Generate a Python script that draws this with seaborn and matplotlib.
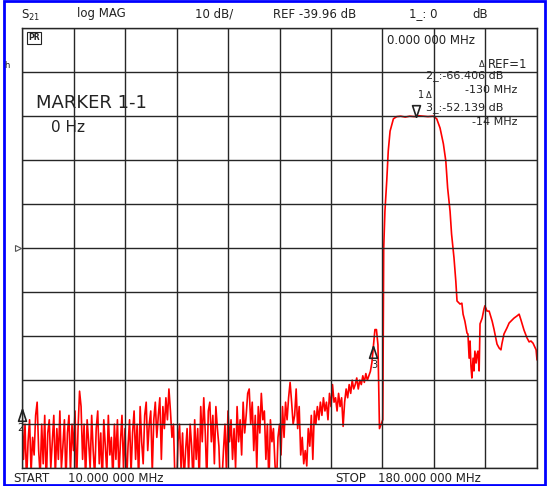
import numpy as np
import pandas as pd
import matplotlib
matplotlib.use("Agg")
import matplotlib.pyplot as plt
import matplotlib.transforms as mtransforms
from matplotlib.patches import Rectangle
import seaborn as sns

# Network analyser S21 sweep (log MAG, 10 dB/div, REF -39.96 dB)
start_mhz = 10.0
stop_mhz = 180.0
ref_db = -39.96
db_per_div = 10

# stopband noise below the filter, 0.5 MHz steps from 10 MHz to 128 MHz
noise_step = 0.5
noise_db = [
    -77, -88, -80, -93, -84, -79, -91, -83, -87, -78,
    -75, -86, -92, -80, -89, -78, -94, -82, -79, -90,
    -84, -78, -92, -81, -88, -77, -90, -85, -79, -93,
    -82, -78, -91, -80, -86, -77, -94, -81, -72.5, -76,
    -88, -80, -93, -79, -84, -90, -78, -86, -92, -81,
    -77, -89, -82, -94, -79, -85, -91, -78, -87, -83,
    -93, -80, -88, -79, -92, -84, -78, -90, -81, -94,
    -85, -79, -91, -82, -77, -88, -80, -93, -76, -84,
    -89, -78, -75, -86, -80, -77, -91, -79, -75, -83,
    -78, -74, -88, -76, -81, -74, -79, -72, -77, -83,
    -80, -93, -95, -84, -80, -90, -82, -93, -86, -81,
    -91, -80, -85, -94, -79, -88, -81, -93, -76, -84,
    -74, -82, -93, -77, -75, -84, -78, -89, -76, -81,
    -85, -95, -93, -86, -80, -91, -77, -84, -79, -88,
    -81, -90, -76, -84, -79, -87, -75, -82, -78, -73,
    -72, -80, -75, -86, -78, -90, -76, -82, -73, -79,
    -77, -88, -80, -94, -79, -84, -81, -89, -94, -83,
    -80, -87, -76, -83, -75, -79, -74, -70.5, -75, -80,
    -78, -72, -81, -76, -87, -83, -89, -86, -89.5, -81,
    -85, -78, -88, -77, -80, -76, -79, -75, -78, -74,
    -77, -75, -79, -73, -76, -71, -75, -74, -77, -73,
    -76, -74, -80.5, -75, -72, -74, -71, -73, -70, -72,
    -71, -69.5, -72, -70, -71, -69, -70.5, -68.5, -70, -69,
    -68, -66, -62.2, -58.5, -58.5, -62, -81,
]

# filter skirt, passband and upper stopband
filter_mhz = [
    129.1, 129.3, 129.4, 129.8, 130.4, 130.9, 131.5, 132.6, 133.7, 135.0,
    136.5, 138.0, 139.5, 141.0, 142.5, 144.0, 145.8, 146.9, 148.0, 149.1,
    149.9, 150.5, 151.3, 151.8, 152.6, 153.2, 153.6, 154.6, 155.2, 155.6,
    156.2, 156.9, 157.2, 157.6, 157.9, 158.2, 158.5, 158.9, 159.2, 159.5,
    159.9, 160.2, 160.5, 160.9, 161.2, 161.9, 162.5, 162.8, 163.5, 164.2,
    164.5, 165.2, 165.8, 166.8, 167.5, 168.1, 168.4, 169.1, 170.1, 170.8,
    171.4, 172.4, 173.4, 174.1, 174.7, 175.7, 176.7, 177.4, 178.0, 178.7,
    179.7, 180.0,
]
filter_db = [
    -79, -50.4, -40, -31.6, -24.7, -17.9, -13.4, -10.6, -10.1, -10.0,
    -10.2, -10.0, -10.1, -9.9, -10.0, -10.1, -10.0, -10.6, -12.7, -16.3,
    -20.2, -26.3, -31.6, -36.8, -42.2, -47.5, -52.0, -52.7, -52.5, -55.0,
    -56.6, -59.3, -59.5, -65.0, -61.1, -66.8, -69.5, -65.0, -67.9, -63.4,
    -66.1, -64.1, -63.4, -67.9, -57.2, -55.9, -53.8, -53.1, -54.3, -54.3,
    -55.0, -56.6, -58.4, -61.8, -62.7, -63.1, -61.8, -59.5, -58.1, -57.0,
    -56.6, -55.9, -55.4, -55.0, -56.3, -58.6, -60.4, -61.3, -61.1, -61.6,
    -63.1, -65.4,
]

# markers: 1 is the reference, 2 and 3 are read as deltas to it
m1_mhz, m1_db = 140.0, -10.1
delta_mhz = {2: -130.0, 3: -14.0}
delta_db = {2: -66.406, 3: -52.139}

noise_mhz = start_mhz + noise_step * np.arange(len(noise_db))
trace = pd.DataFrame({
    "MHz": np.concatenate([noise_mhz, filter_mhz]),
    "dB": np.concatenate([noise_db, filter_db]),
})

sns.set_theme(style="white")
plt.rcParams["font.family"] = ["DejaVu Sans"]

W, H = 547, 486
fig = plt.figure(figsize=(W / 100, H / 100), dpi=100)
ax = fig.add_axes([22 / W, 1 - 468 / H, 515 / W, 440 / H])

sns.lineplot(data=trace, x="MHz", y="dB", color="#ff0000", lw=1.2,
             estimator=None, sort=False, legend=False, ax=ax)

ax.set_xlim(start_mhz, stop_mhz)
ax.set_ylim(ref_db - 5 * db_per_div, ref_db + 5 * db_per_div)
ax.set_xticks(np.linspace(start_mhz, stop_mhz, 11))
ax.set_yticks(ref_db + db_per_div * np.arange(-5, 6))
ax.set_axisbelow(False)
ax.grid(True, color="#262626", lw=1.0)
ax.tick_params(length=0, labelbottom=False, labelleft=False)
ax.set_xlabel("")
ax.set_ylabel("")
for s in ax.spines.values():
    s.set_color("#262626")
    s.set_linewidth(1.0)

ink = "#222222"

# marker triangles, tip sitting on the trace
up_tri = [(0, 0), (-4, -12), (4, -12), (0, 0)]
down_tri = [(0, 0), (-4, 12), (4, 12), (0, 0)]
m2 = (m1_mhz + delta_mhz[2], m1_db + delta_db[2])
m3 = (m1_mhz + delta_mhz[3], m1_db + delta_db[3])
for (mx, my) in [m2, m3]:
    ax.plot([mx], [my], marker=up_tri, ms=17, mfc="none", mec=ink, mew=1.2,
            clip_on=False, zorder=5)
ax.plot([m1_mhz], [m1_db], marker=down_tri, ms=17, mfc="none", mec=ink,
        mew=1.2, clip_on=False, zorder=5)

# reference position indicator on the left edge
blend = mtransforms.blended_transform_factory(ax.transAxes, ax.transData)
ax.plot([-0.008], [ref_db], marker=">", ms=4, mfc="none", mec="#555555",
        mew=0.8, transform=blend, clip_on=False)


def put(x, y, s, size=8.5, ha="left", **kw):
    fig.text(x / W, 1 - y / H, s, fontsize=size, ha=ha, va="center",
             color=ink, **kw)


# header line
put(21, 15, r"S$_{21}$", 8.5)
put(77, 14, "log MAG")
put(195, 14, "10 dB/")
put(273, 14, "REF -39.96 dB")
put(409, 14, "1_: 0")
put(472, 14, "dB")

# marker readouts
put(387, 40, "0.000 000 MHz")
put(479, 64, "\u0394", 6)
put(488, 64, "REF=1")
put(503, 76, "2_:-66.406 dB", 8, ha="right")
put(517, 90, "-130 MHz", 8, ha="right")
put(418, 95, "1", 7)
put(426, 95, "\u0394", 6)
put(503, 108, "3_:-52.139 dB", 8, ha="right")
put(517, 122, "-14 MHz", 8, ha="right")
put(20, 428, "2", 7, ha="center")
put(374, 365, "3", 7, ha="center")

put(36, 103, "MARKER 1-1", 13)
put(51, 127, "0 Hz", 11)
put(28, 38, "PR", 5.5, fontweight="bold",
    bbox=dict(boxstyle="square,pad=0.15", fc="white", ec=ink, lw=0.8))
put(4, 66, "h", 6)

# footer
put(13, 478, "START")
put(68, 478, "10.000 000 MHz")
put(335, 478, "STOP")
put(378, 478, "180.000 000 MHz")

# blue screen frame
fig.add_artist(Rectangle((4 / W, 1.5 / H), 541 / W, 483 / H,
                         transform=fig.transFigure, fill=False,
                         ec="#0000ff", lw=2))

fig.savefig("out.png", dpi=100)
